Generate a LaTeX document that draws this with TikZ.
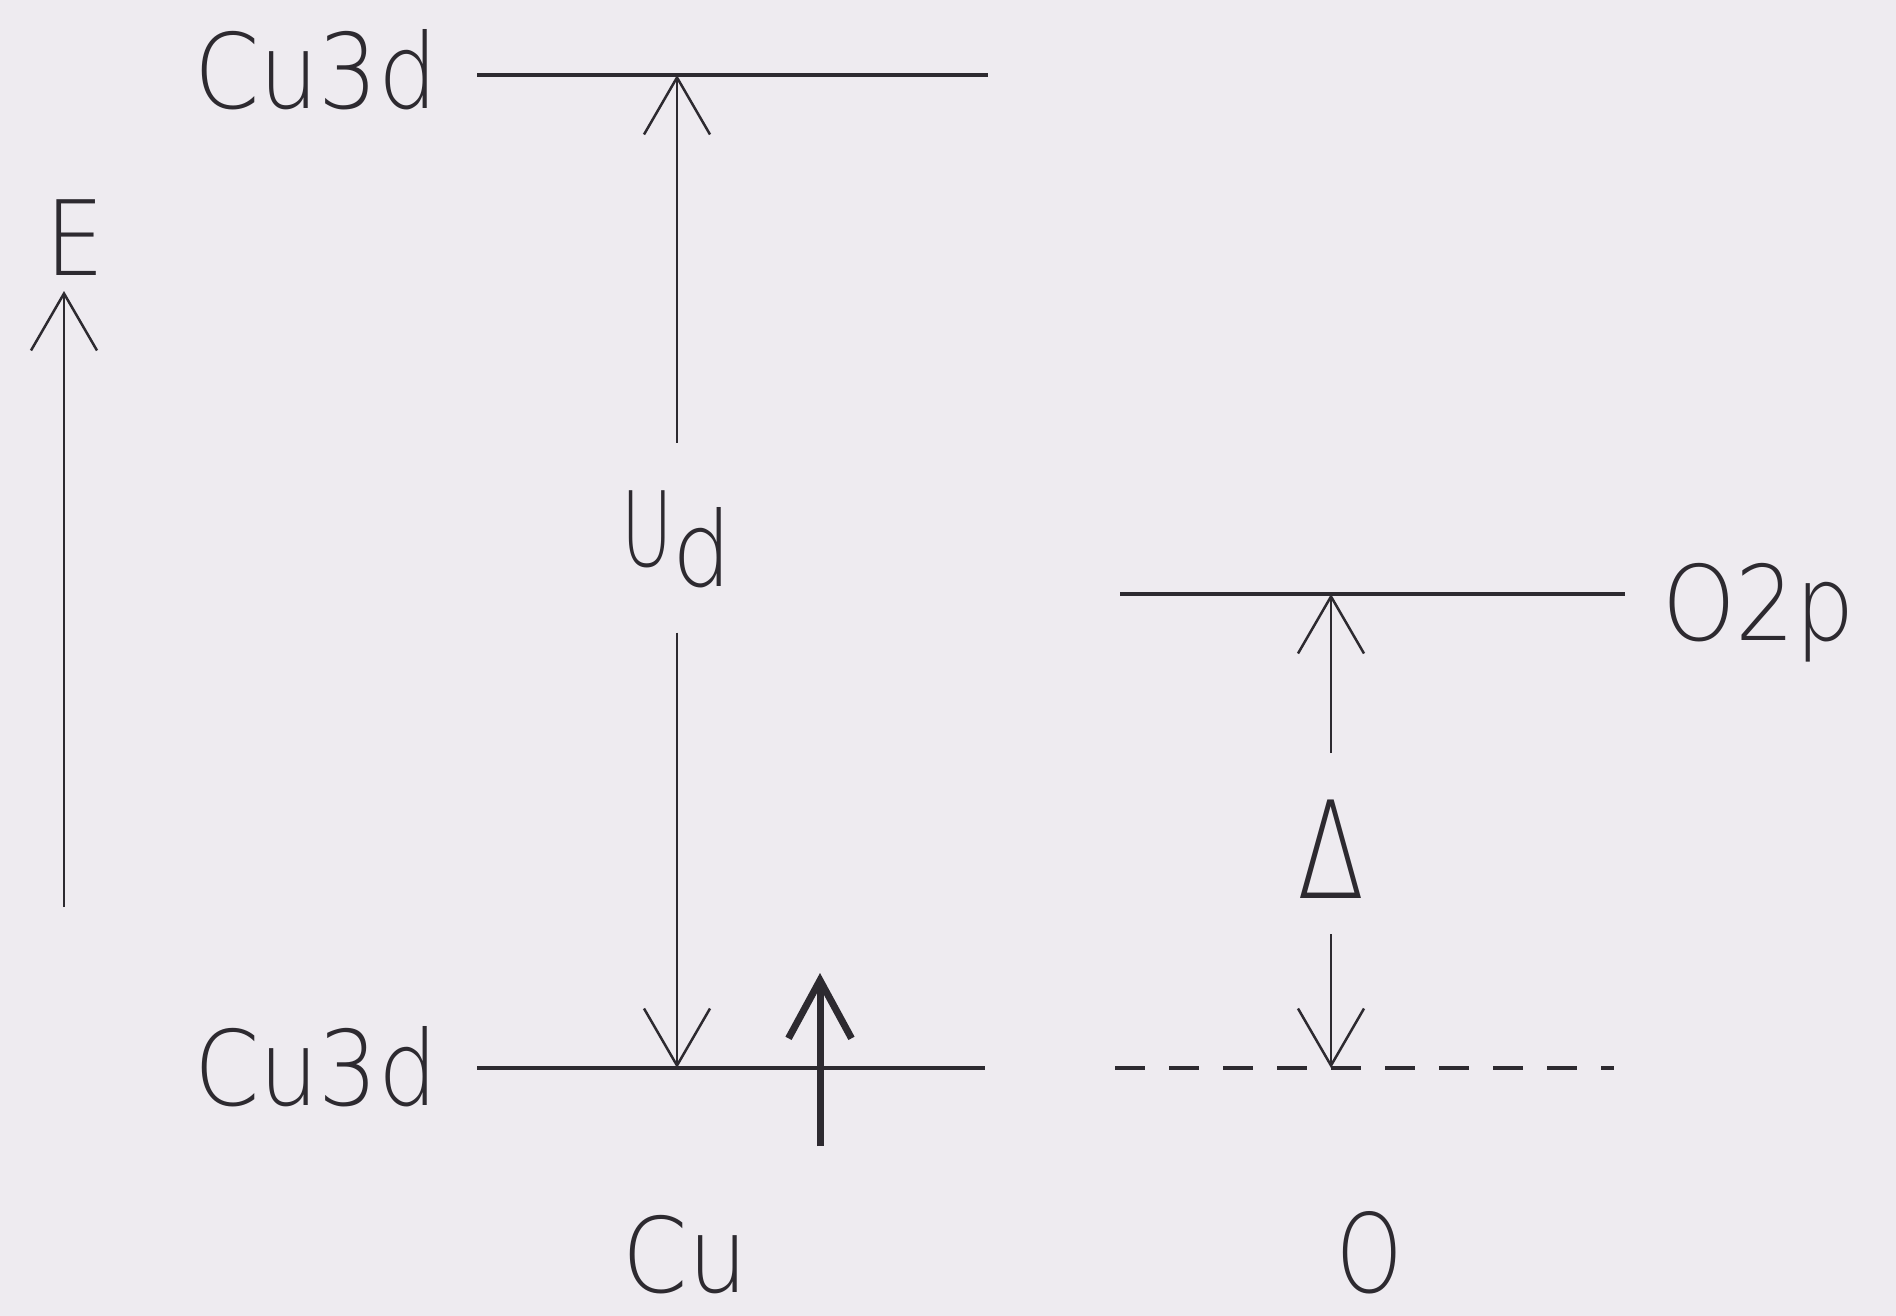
\documentclass[tikz,border=0pt]{standalone}
\usepackage{fontspec}
\setmainfont{DejaVu Sans ExtraLight}[FakeStretch=0.9]
\usetikzlibrary{arrows.meta}
\definecolor{bgcol}{RGB}{238,235,240}
\definecolor{ink}{RGB}{45,42,48}
\begin{document}
\begin{tikzpicture}[x=1pt,y=-1pt,
  lbl/.style={inner sep=0pt, text=ink, font=\fontsize{104}{120}\selectfont},
  level/.style={draw=ink, line width=4.5pt},
  dashlevel/.style={draw=ink, line width=3.5pt, dash pattern=on 30pt off 24pt},
  arr/.style={draw=ink, line width=2.5pt, -{Straight Barb[length=57pt,width=66pt]}},
  boldarr/.style={draw=ink, line width=7pt, -{Straight Barb[length=58pt,width=63pt]}}]
\fill[bgcol] (0,0) rectangle (1896,1316);
\useasboundingbox (0,0) rectangle (1896,1316);
% level end points
\coordinate (A1) at (477,75);
\coordinate (A2) at (988,75);
\coordinate (B1) at (477,1068);
\coordinate (B2) at (985,1068);
\coordinate (C1) at (1120,594);
\coordinate (C2) at (1625,594);
\coordinate (D1) at (1115,1068);
\coordinate (D2) at (1614,1068);
% arrow end points on levels
\coordinate (Ut) at (677,75);
\coordinate (Ub) at (677,1068);
\coordinate (Dt) at (1331,594);
\coordinate (Db) at (1331,1068);
\coordinate (Ebot) at (64,907);
\coordinate (Etip) at (64,291);
\coordinate (Sb) at (820,1146);
\coordinate (St) at (820,973);
% labels
\node[lbl, anchor=base east] (cu3dtop) at (438,109) {Cu3d};
\node[lbl, anchor=base east] (cu3dbot) at (438,1105) {Cu3d};
\node[lbl, anchor=base] (E) at (75,276) {E};
\node[lbl, anchor=base] (Ud) at (677,566) {\scalebox{0.75}[1]{U}\raisebox{-20pt}{d}};
\node[lbl, anchor=base west] (O2p) at (1662,640) {O2p};
\node[lbl, anchor=base] (Delta) at (1331,898) {\scalebox{1.05}[1.3]{Δ}};
\node[lbl, anchor=base] (Cu) at (685,1292) {Cu};
\node[lbl, anchor=base] (O) at (1370,1292) {\scalebox{0.9}[1.05]{O}};
% levels
\draw[level] (A1) -- (A2);
\draw[level] (B1) -- (B2);
\draw[level] (C1) -- (C2);
\draw[dashlevel] (D1) -- (D2);
% arrows
\draw[arr] (Ebot) -- (Etip);
\draw[arr, shorten <=47pt] (Ud.north -| Ut) -- (Ut);
\draw[arr, shorten <=45pt] (Ud.south -| Ub) -- (Ub);
\draw[arr, shorten <=46pt] (Delta.north) -- (Dt);
\draw[arr, shorten <=36pt] (Delta.south) -- (Db);
\draw[boldarr] (Sb) -- (St);
\end{tikzpicture}
\end{document}
